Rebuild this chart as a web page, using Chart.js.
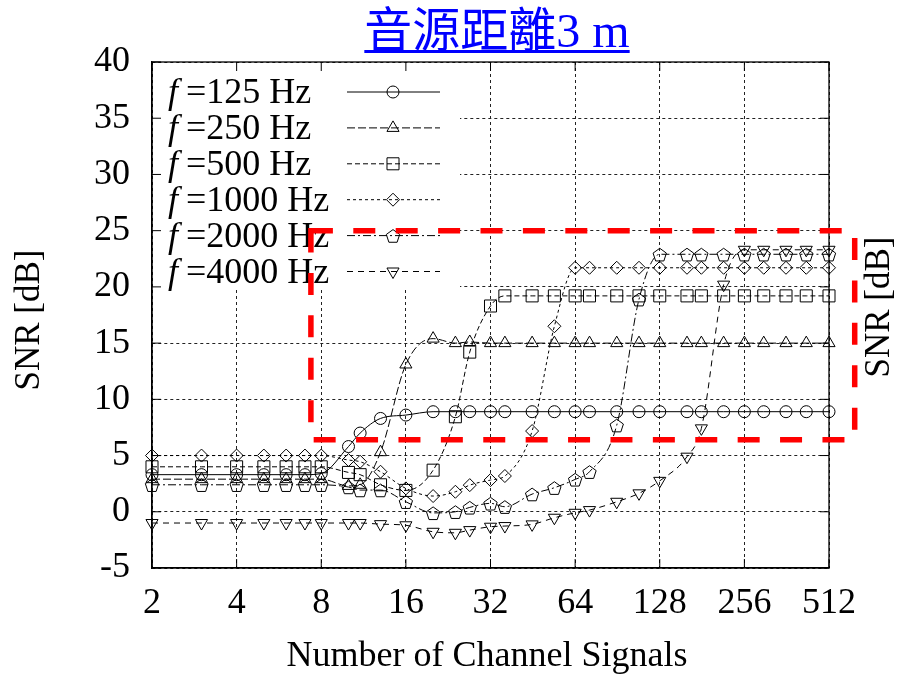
<!DOCTYPE html>
<html>
<head>
<meta charset="utf-8">
<script src="https://cdn.jsdelivr.net/npm/chart.js@4/dist/chart.umd.min.js"></script>
<style>
  html, body { margin: 0; padding: 0; background: #fff; }
  #wrap { width: 897px; height: 676px; }
</style>
</head>
<body>
<div id="wrap"><canvas id="snr" width="897" height="676"></canvas></div>
<script>
// Number of channel signals (x) and SNR in dB for each source frequency
const channels = [2, 3, 4, 5, 6, 7, 8, 10, 11, 13, 16, 20, 24, 27, 32, 36, 45, 54, 64, 72, 90, 108, 128, 160, 180, 216, 256, 300, 360, 425, 512];

const snr125  = [3.3, 3.3, 3.3, 3.3, 3.3, 3.3, 3.4, 5.8, 7.0, 8.3, 8.6, 8.9, 8.9, 8.9, 8.9, 8.9, 8.9, 8.9, 8.9, 8.9, 8.9, 8.9, 8.9, 8.9, 8.9, 8.9, 8.9, 8.9, 8.9, 8.9, 8.9];
const snr250  = [2.9, 2.9, 2.9, 2.9, 2.9, 2.9, 2.9, 2.3, 2.4, 5.3, 13.1, 15.4, 15.0, 15.1, 15.0, 15.0, 15.0, 15.0, 15.0, 15.0, 15.0, 15.0, 15.0, 15.0, 15.0, 15.0, 15.0, 15.0, 15.0, 15.0, 15.0];
const snr500  = [4.0, 4.0, 4.0, 4.0, 4.0, 4.0, 4.0, 3.5, 3.3, 2.4, 1.9, 3.7, 8.45, 14.2, 18.3, 19.2, 19.2, 19.2, 19.2, 19.2, 19.2, 19.2, 19.2, 19.2, 19.2, 19.2, 19.2, 19.2, 19.2, 19.2, 19.2];
const snr1000 = [5.0, 5.0, 5.0, 5.0, 5.0, 5.0, 5.0, 4.6, 4.45, 3.56, 2.08, 1.4, 1.78, 2.37, 2.82, 3.18, 7.18, 16.5, 21.7, 21.7, 21.7, 21.7, 21.7, 21.7, 21.7, 21.7, 21.7, 21.7, 21.7, 21.7, 21.7];
const snr2000 = [2.4, 2.4, 2.4, 2.4, 2.4, 2.4, 2.4, 2.2, 1.93, 1.93, 0.89, -0.1, 0.0, 0.39, 0.75, 0.45, 1.57, 2.14, 2.88, 3.56, 7.7, 18.9, 22.9, 22.9, 22.9, 22.9, 22.9, 22.9, 22.9, 22.9, 22.9];
const snr4000 = [-1.0, -1.0, -1.0, -1.0, -1.0, -1.0, -1.0, -1.0, -1.0, -1.1, -1.2, -1.78, -1.87, -1.63, -1.33, -1.27, -1.12, -0.53, -0.09, 0.15, 0.89, 1.64, 2.75, 4.9, 7.42, 20.2, 23.3, 23.3, 23.3, 23.3, 23.3];

const frequencies = ['125', '250', '500', '1000', '2000', '4000'];
const xTickValues = [2, 4, 8, 16, 32, 64, 128, 256, 512];
const yTickMin = -5, yTickMax = 40, yTickStep = 5;

// highlighted region (data units): channels 7.35..632, SNR 6.4..25 dB
const highlightX = [7.35, 632];
const highlightY = [6.4, 25];

const titleText = '音源距離3 m';
const xTitle = 'Number of Channel Signals';
const yTitle = 'SNR [dB]';

const SERIF = "'Liberation Serif', 'DejaVu Serif', serif";

// open pentagon outline, used for the 2000 Hz series
function strokePentagon(ctx, cx, cy, r) {
  ctx.beginPath();
  for (let i = 0; i < 5; i++) {
    const a = -Math.PI / 2 + i * 2 * Math.PI / 5;
    const px = cx + r * Math.cos(a);
    const py = cy + r * Math.sin(a) + 1;
    if (i === 0) ctx.moveTo(px, py); else ctx.lineTo(px, py);
  }
  ctx.closePath();
  ctx.stroke();
}

const seriesValues = [snr125, snr250, snr500, snr1000, snr2000, snr4000];
const styles = [
  { pointStyle: 'circle',   radius: 6,   rotation: 0,   dash: [] },
  { pointStyle: 'triangle', radius: 7,   rotation: 0,   dash: [8, 3] },
  { pointStyle: 'rect',     radius: 8.5, rotation: 0,   dash: [5, 3] },
  { pointStyle: 'rectRot',  radius: 6.5, rotation: 0,   dash: [3, 3] },
  { pointStyle: 'pentagon', radius: 7,   rotation: 0,   dash: [8, 3, 2, 3] },
  { pointStyle: 'triangle', radius: 7,   rotation: 180, dash: [6, 5] }
];

const datasets = seriesValues.map((vals, i) => {
  const st = styles[i];
  const custom = st.pointStyle === 'pentagon';
  return {
    label: 'f =' + frequencies[i] + ' Hz',
    data: channels.map((c, k) => ({ x: c, y: vals[k] })),
    borderColor: '#000',
    backgroundColor: 'rgba(0,0,0,0)',
    borderWidth: 1,
    borderDash: st.dash,
    pointStyle: custom ? 'circle' : st.pointStyle,
    pointRadius: custom ? 0 : st.radius,
    pointRotation: st.rotation,
    pointBorderColor: '#000',
    pointBackgroundColor: 'rgba(0,0,0,0)',
    pointBorderWidth: 1,
    cubicInterpolationMode: 'monotone',
    clip: false,
    fill: false,
    markerShape: st.pointStyle,
    markerRadius: st.radius
  };
});

// white key area: hides the grid behind the key
const keyBox = { right: 460, bottom: 290 };

const keyBackground = {
  id: 'keyBackground',
  beforeDatasetsDraw(chart) {
    const { ctx, chartArea } = chart;
    ctx.save();
    ctx.fillStyle = '#fff';
    ctx.fillRect(chartArea.left + 1, chartArea.top + 1, keyBox.right - chartArea.left - 1, keyBox.bottom - chartArea.top - 1);
    ctx.restore();
  }
};

// pentagon markers placed at the points the line element computed
const pentagonMarkers = {
  id: 'pentagonMarkers',
  afterDatasetsDraw(chart) {
    const ctx = chart.ctx;
    ctx.save();
    ctx.strokeStyle = '#000';
    ctx.lineWidth = 1;
    ctx.setLineDash([]);
    chart.data.datasets.forEach((ds, i) => {
      if (ds.markerShape !== 'pentagon') return;
      chart.getDatasetMeta(i).data.forEach(pt => strokePentagon(ctx, pt.x, pt.y, ds.markerRadius));
    });
    ctx.restore();
  }
};

const decorations = {
  id: 'decorations',
  afterDraw(chart) {
    const { ctx, chartArea: a, scales } = chart;
    const xs = scales.x, ys = scales.y;
    ctx.save();

    // frame
    ctx.strokeStyle = '#000';
    ctx.lineWidth = 1.3;
    ctx.setLineDash([]);
    ctx.strokeRect(a.left, a.top, a.right - a.left, a.bottom - a.top);

    // inward tick marks on all four sides
    const tl = 9;
    ctx.lineWidth = 1;
    ctx.beginPath();
    xs.ticks.forEach(t => {
      const px = xs.getPixelForValue(t.value);
      ctx.moveTo(px, a.bottom); ctx.lineTo(px, a.bottom - tl);
      ctx.moveTo(px, a.top); ctx.lineTo(px, a.top + tl);
    });
    ys.ticks.forEach(t => {
      const py = ys.getPixelForValue(t.value);
      ctx.moveTo(a.left, py); ctx.lineTo(a.left + tl, py);
      ctx.moveTo(a.right, py); ctx.lineTo(a.right - tl, py);
    });
    ctx.stroke();

    // key
    const rowTop = 92, rowStep = 35.9, textX = 168, lineX0 = 347, lineX1 = 440, markX = 393;
    chart.data.datasets.forEach((ds, i) => {
      const y = rowTop + i * rowStep;
      ctx.fillStyle = '#000';
      ctx.textBaseline = 'middle';
      ctx.textAlign = 'left';
      ctx.font = 'italic 36px ' + SERIF;
      ctx.fillText('f', textX, y + 2);
      const fw = ctx.measureText('f').width;
      ctx.font = '36px ' + SERIF;
      ctx.fillText(ds.label.replace(/^f /, ''), textX + fw + 8, y + 2);
      ctx.strokeStyle = '#000';
      ctx.lineWidth = 1;
      ctx.setLineDash(ds.borderDash);
      ctx.beginPath();
      ctx.moveTo(lineX0, y); ctx.lineTo(lineX1, y);
      ctx.stroke();
      ctx.setLineDash([]);
      ctx.fillStyle = 'rgba(0,0,0,0)';
      if (ds.markerShape === 'pentagon') {
        strokePentagon(ctx, markX, y, ds.markerRadius);
      } else {
        Chart.helpers.drawPoint(ctx, {
          pointStyle: ds.pointStyle, rotation: ds.pointRotation, radius: ds.pointRadius, borderWidth: 1
        }, markX, y);
      }
    });

    // highlighted region
    const rx0 = xs.getPixelForValue(highlightX[0]), rx1 = xs.getPixelForValue(highlightX[1]);
    const ry0 = ys.getPixelForValue(highlightY[1]), ry1 = ys.getPixelForValue(highlightY[0]);
    ctx.strokeStyle = '#ff0000';
    ctx.lineWidth = 5.5;
    ctx.setLineDash([22, 20.4]);
    ctx.beginPath();
    ctx.moveTo(rx0, ry0); ctx.lineTo(rx1, ry0); ctx.lineTo(rx1, ry1); ctx.lineTo(rx0, ry1); ctx.closePath();
    ctx.stroke();
    ctx.setLineDash([]);

    // title
    ctx.fillStyle = '#0000ff';
    ctx.font = "48px 'Liberation Serif', 'Noto Sans CJK TC', serif";
    ctx.textAlign = 'center';
    ctx.textBaseline = 'alphabetic';
    const tx = 497;
    ctx.fillText(titleText, tx, 47);
    const tw = ctx.measureText(titleText).width;
    ctx.fillRect(tx - tw / 2, 50, tw, 3);

    // axis titles
    ctx.fillStyle = '#000';
    ctx.font = '36px ' + SERIF;
    ctx.textBaseline = 'middle';
    ctx.fillText(xTitle, 487, 657);
    ctx.font = '35px ' + SERIF;
    ctx.save();
    ctx.translate(30, 320);
    ctx.rotate(-Math.PI / 2);
    ctx.fillText(yTitle, 0, 0);
    ctx.restore();
    ctx.save();
    ctx.translate(880, 307);
    ctx.rotate(-Math.PI / 2);
    ctx.fillText(yTitle, 0, 0);
    ctx.restore();

    ctx.restore();
  }
};

new Chart(document.getElementById('snr'), {
  type: 'line',
  data: { datasets },
  options: {
    responsive: false,
    animation: false,
    devicePixelRatio: 1,
    layout: { padding: { left: 0, top: 62, right: 68, bottom: 0 } },
    plugins: { legend: { display: false }, title: { display: false }, tooltip: { enabled: false } },
    scales: {
      x: {
        type: 'logarithmic',
        min: 2, max: 512,
        afterBuildTicks(scale) { scale.ticks = xTickValues.map(v => ({ value: v })); },
        afterFit(scale) { scale.height = 108; },
        ticks: {
          color: '#000', padding: 14, maxRotation: 0, autoSkip: false,
          font: { family: SERIF, size: 36 },
          callback: v => String(v)
        },
        grid: { color: '#222', lineWidth: 1, drawTicks: false },
        border: { display: true, color: '#000', width: 1.3, dash: [3, 3] }
      },
      y: {
        type: 'linear',
        min: yTickMin, max: yTickMax,
        afterFit(scale) { scale.width = 152; },
        ticks: {
          stepSize: yTickStep, color: '#000', padding: 22,
          font: { family: SERIF, size: 36 }
        },
        grid: { color: '#222', lineWidth: 1, drawTicks: false },
        border: { display: true, color: '#000', width: 1.3, dash: [3, 3] }
      }
    }
  },
  plugins: [keyBackground, pentagonMarkers, decorations]
});
</script>
</body>
</html>
